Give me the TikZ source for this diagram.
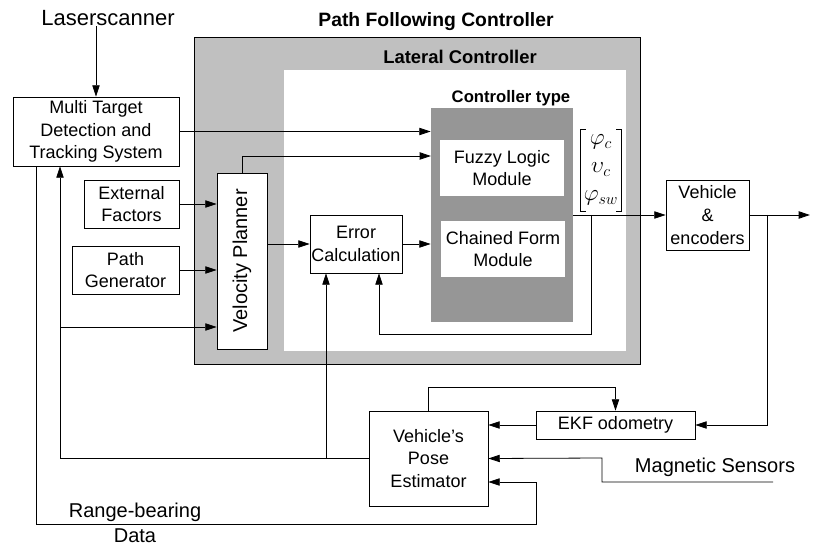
\documentclass[tikz,border=0pt]{standalone}
\usepackage{fontspec}
\setmainfont{Liberation Sans}
\usepackage{graphicx}
\usetikzlibrary{arrows.meta}
\definecolor{lightgrey}{RGB}{192,192,192}
\definecolor{darkgrey}{RGB}{150,150,150}
\newcommand{\boxfont}{\fontsize{13.5}{17}\selectfont}
\tikzset{
  block/.style={draw, fill=white, align=center, inner sep=0pt, font=\boxfont},
  module/.style={fill=white, align=center, inner sep=0pt, font=\boxfont, minimum width=93pt, minimum height=42pt},
  area/.style={inner sep=0pt},
  title/.style={font=\bfseries\fontsize{#1}{#1}\selectfont, inner sep=0pt},
  outside/.style={font=\fontsize{15}{18}\selectfont, inner sep=0pt, align=center},
  sig/.style={-{Triangle[length=8.5pt,width=5.5pt]}},
}
\begin{document}
\begin{tikzpicture}[x=0.75pt, y=-0.75pt, line width=0.6pt]
      \useasboundingbox (0,0) rectangle (813,545);
      \draw
        (417,200.5) node[area, draw, fill=lightgrey, minimum width=334.5pt, minimum height=245.25pt] (pfc){}
        (455,210.5) node[area, fill=white, minimum width=256.5pt, minimum height=210.75pt] (lat){}
        (502,215) node[area, fill=darkgrey, minimum width=106.5pt, minimum height=160.5pt] (ctype){};
      \draw
        (436,22) node[title=14.5] (pfctitle){Path Following Controller}
        (460,57) node[title=13.8] (lattitle){Lateral Controller}
        (511,98) node[title=12.5] (ctypetitle){Controller type}
        (108,18) node[outside, font=\fontsize{16.5}{18}\selectfont] (laser){Laserscanner}
        (715,467) node[outside] (magnetic){Magnetic Sensors}
        (135,512) node[outside] (range){Range-bearing}
        (135,536) node[outside] (data){Data};
      \draw
        (96,131.5) node[block, minimum width=124.5pt, minimum height=51.75pt] (mtdts){Multi Target\\Detection and\\Tracking System}
        (131.5,204) node[block, minimum width=71.25pt, minimum height=36pt] (ext){External\\Factors}
        (125.5,270) node[block, minimum width=80.25pt, minimum height=36pt] (pgen){Path\\Generator}
        (242,261) node[block, minimum width=37.5pt, minimum height=132pt, font=\fontsize{15}{17}\selectfont] (vplan){\rotatebox{90}{Velocity Planner}}
        (356,244) node[block, minimum width=69pt, minimum height=43.5pt] (err){Error\\Calculation}
        (502,168) node[module] (fuzzy){Fuzzy Logic\\Module}
        (503,249) node[module] (chain){Chained Form\\Module}
        (601,170) node[inner sep=0pt, minimum width=30pt, minimum height=61pt, align=center, font=\fontsize{17}{21}\selectfont] (cmd){$\varphi_c$\\$\upsilon_c$\\$\varphi_{sw}$}
        (707.5,215) node[block, minimum width=62.25pt, minimum height=52.5pt] (vehicle){Vehicle\\\&\\encoders}
        (615.5,425) node[block, minimum width=119.25pt, minimum height=21pt] (ekf){EKF odometry}
        (428.5,458.5) node[block, minimum width=89.25pt, minimum height=71.25pt] (pose){Vehicle’s\\Pose\\Estimator};
      \coordinate (vpin) at (431,156);
      \coordinate (out) at (810,215);
      \coordinate (magend) at (773,482);
      \begin{scope}[sig]
        \draw (mtdts.north |- laser.south) -- (mtdts.north);
        \draw (mtdts.east) -- (mtdts.east -| ctype.west);
        \draw (vplan.north) |- (vpin);
        \draw (ext.east) -- (ext.east -| vplan.west);
        \draw (pgen.east) -- (pgen.east -| vplan.west);
        \draw (vplan.east |- err.west) -- (err.west);
        \draw (err.east) -- (err.east -| ctype.west);
        \draw (vehicle.west -| ctype.east) -- (vehicle.west);
        \draw (vehicle.east) -- (out);
        \draw (767,215) |- (ekf.east);
        \draw (ekf.west) -- (ekf.west -| pose.east);
        \draw (pose.north) -- (pose.north |- 0,387) -| (ekf.north);
        \draw (magend) -| (602,458) -- (pose.east);
        \draw (mtdts.south -| 36,0) -- (36,524) -| (536,482) -- (pose.east |- 0,482);
        \draw (pose.west) -| (mtdts.south -| 60,0);
        \draw (60,327) -- (vplan.west |- 0,327);
        \draw (326,458) -- (err.south -| 326,0);
        \draw (591,215) |- (379,334) -- (err.south -| 379,0);
      \end{scope}
      \draw (cmd.north west) ++(5,0) -| (cmd.south west) -- ++(5,0);
      \draw (cmd.north east) ++(-5,0) -| (cmd.south east) -- ++(-5,0);
    \end{tikzpicture}
\end{document}
